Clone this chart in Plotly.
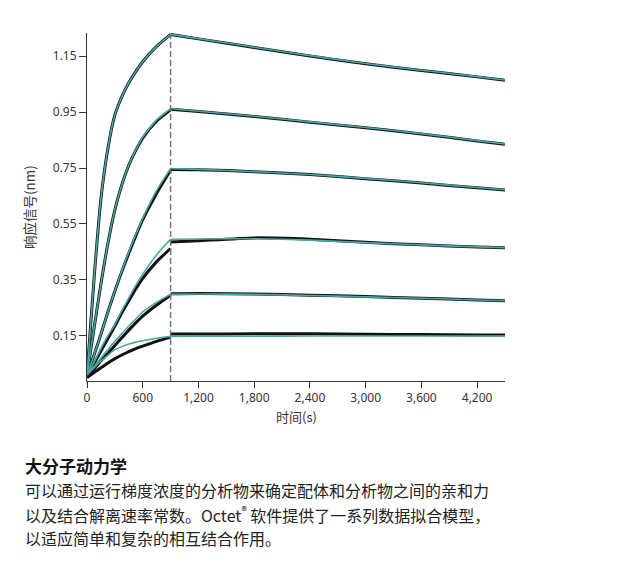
import plotly.graph_objects as go

# ---- data ----
t_assoc = [0, 75, 150, 225, 300, 375, 450, 525, 600, 750, 900]
t_dissoc = [900, 1200, 1800, 2400, 3000, 3600, 4200, 4500]

# fitted curves (association phase)
fit_assoc_1 = [0.01, 0.35, 0.64, 0.82, 0.94, 1.005, 1.055, 1.095, 1.13, 1.185, 1.228]
fit_assoc_2 = [0.01, 0.175, 0.335, 0.48, 0.60, 0.69, 0.76, 0.815, 0.86, 0.922, 0.962]
fit_assoc_3 = [0.01, 0.08, 0.155, 0.235, 0.31, 0.382, 0.45, 0.512, 0.57, 0.67, 0.748]
fit_assoc_4 = [0.01, 0.055, 0.105, 0.15, 0.19, 0.24, 0.285, 0.33, 0.37, 0.44, 0.495]
fit_assoc_5 = [0.01, 0.04, 0.07, 0.10, 0.13, 0.158, 0.185, 0.21, 0.235, 0.27, 0.298]
fit_assoc_6 = [0.01, 0.035, 0.06, 0.08, 0.10, 0.111, 0.12, 0.127, 0.132, 0.141, 0.147]

# measured data (association phase)
raw_assoc_1 = [0.01, 0.35, 0.64, 0.82, 0.94, 1.005, 1.055, 1.095, 1.13, 1.185, 1.228]
raw_assoc_2 = [0.01, 0.175, 0.335, 0.48, 0.60, 0.69, 0.76, 0.813, 0.857, 0.918, 0.958]
raw_assoc_3 = [0.01, 0.08, 0.155, 0.235, 0.31, 0.38, 0.445, 0.507, 0.565, 0.66, 0.742]
raw_assoc_4 = [0.005, 0.05, 0.095, 0.14, 0.185, 0.232, 0.275, 0.317, 0.355, 0.415, 0.462]
raw_assoc_5 = [0.005, 0.03, 0.06, 0.087, 0.115, 0.143, 0.17, 0.196, 0.22, 0.26, 0.295]
raw_assoc_6 = [0.0, 0.018, 0.035, 0.052, 0.068, 0.081, 0.093, 0.104, 0.113, 0.13, 0.145]

# fitted curves (dissociation phase)
fit_dissoc_1 = [1.228, 1.213, 1.182, 1.152, 1.124, 1.10, 1.077, 1.065]
fit_dissoc_2 = [0.962, 0.953, 0.935, 0.915, 0.895, 0.873, 0.848, 0.836]
fit_dissoc_3 = [0.748, 0.745, 0.737, 0.727, 0.713, 0.697, 0.68, 0.672]
fit_dissoc_4 = [0.495, 0.496, 0.497, 0.492, 0.483, 0.475, 0.468, 0.465]
fit_dissoc_5 = [0.298, 0.299, 0.298, 0.294, 0.289, 0.284, 0.278, 0.275]
fit_dissoc_6 = [0.147, 0.148, 0.148, 0.149, 0.149, 0.149, 0.149, 0.149]

# measured data (dissociation phase)
raw_dissoc_1 = [1.228, 1.212, 1.181, 1.151, 1.123, 1.099, 1.076, 1.064]
raw_dissoc_2 = [0.960, 0.952, 0.934, 0.914, 0.894, 0.872, 0.847, 0.835]
raw_dissoc_3 = [0.745, 0.744, 0.737, 0.727, 0.712, 0.696, 0.679, 0.671]
raw_dissoc_4 = [0.485, 0.49, 0.50, 0.495, 0.484, 0.475, 0.467, 0.465]
raw_dissoc_5 = [0.30, 0.301, 0.299, 0.295, 0.29, 0.284, 0.278, 0.275]
raw_dissoc_6 = [0.156, 0.156, 0.157, 0.157, 0.155, 0.154, 0.153, 0.153]

x_tickvals = [0, 600, 1200, 1800, 2400, 3000, 3600, 4200]
x_ticktext = ["0", "600", "1,200", "1,800", "2,400", "3,000", "3,600", "4,200"]
y_tickvals = [0.15, 0.35, 0.55, 0.75, 0.95, 1.15]
y_ticktext = ["0.15", "0.35", "0.55", "0.75", "0.95", "1.15"]
switch_time = 900

raw_assoc = [raw_assoc_1, raw_assoc_2, raw_assoc_3, raw_assoc_4, raw_assoc_5, raw_assoc_6]
raw_dissoc = [raw_dissoc_1, raw_dissoc_2, raw_dissoc_3, raw_dissoc_4, raw_dissoc_5, raw_dissoc_6]
fit_assoc = [fit_assoc_1, fit_assoc_2, fit_assoc_3, fit_assoc_4, fit_assoc_5, fit_assoc_6]
fit_dissoc = [fit_dissoc_1, fit_dissoc_2, fit_dissoc_3, fit_dissoc_4, fit_dissoc_5, fit_dissoc_6]

RAW_COLOR = "#111111"
FIT_COLOR = "#4aa5a5"

fig = go.Figure()
for ra, rd in zip(raw_assoc, raw_dissoc):
    for xs, ys in ((t_assoc, ra), (t_dissoc, rd)):
        fig.add_trace(go.Scatter(x=xs, y=ys, mode="lines",
                                 line=dict(color=RAW_COLOR, width=3, shape="spline", smoothing=0.6),
                                 showlegend=False, hoverinfo="skip"))
for fa, fd in zip(fit_assoc, fit_dissoc):
    for xs, ys in ((t_assoc, fa), (t_dissoc, fd)):
        fig.add_trace(go.Scatter(x=xs, y=ys, mode="lines",
                                 line=dict(color=FIT_COLOR, width=1.6, shape="spline", smoothing=0.6),
                                 showlegend=False, hoverinfo="skip"))

Y_MIN, Y_MAX = -0.012, 1.233

fig.add_shape(type="line", x0=switch_time, x1=switch_time, y0=Y_MIN, y1=1.228,
              xref="x", yref="y", line=dict(color="#777777", width=1.5, dash="6px,3px"))

tick_font = dict(family="Noto Sans, Open Sans, sans-serif", size=12, color="#333333")
fig.update_xaxes(range=[0, 4500], tickvals=x_tickvals, ticktext=x_ticktext,
                 showline=True, linecolor="#333333", linewidth=1,
                 ticks="outside", ticklen=6, tickcolor="#333333",
                 showgrid=False, zeroline=False, tickfont=tick_font)
fig.update_yaxes(range=[Y_MIN, Y_MAX], tickvals=y_tickvals, ticktext=y_ticktext,
                 showline=True, linecolor="#333333", linewidth=1,
                 ticks="outside", ticklen=7, tickcolor="#333333",
                 showgrid=False, zeroline=False, tickfont=tick_font)

cjk = "Noto Sans CJK SC, sans-serif"
ann = [
    dict(text="响应信号(nm)", x=(29 - 87) / 418, y=0.5, textangle=-90,
         font=dict(family=cjk, size=13.5, color="#333333")),
    dict(text="时间(s)", x=0.5, y=(381 - 416) / 348,
         font=dict(family=cjk, size=13, color="#333333")),
]
left = (23 - 87) / 418
lines = [
    ("<b>大分子动力学</b>", 465, "#111111", 17),
    ("可以通过运行梯度浓度的分析物来确定配体和分析物之间的亲和力", 489.5, "#222222", 16),
    ("以及结合解离速率常数。Octet<sup>®</sup> 软件提供了一系列数据拟合模型，", 514.5, "#222222", 16),
    ("以适应简单和复杂的相互结合作用。", 538, "#222222", 16),
]
for txt, py, col, fs in lines:
    ann.append(dict(text=txt, x=left, y=(381 - py) / 348, xanchor="left",
                    font=dict(family=cjk, size=fs, color=col)))
for a in ann:
    a.setdefault("xanchor", "center")
    a.update(xref="paper", yref="paper", yanchor="middle", showarrow=False)
fig.update_layout(annotations=ann)

# page body adds an 8px offset; margins compensate so the plot sits where the reference has it
fig.update_layout(width=619, height=571,
                  margin=dict(l=79, r=122, t=25, b=198),
                  paper_bgcolor="white", plot_bgcolor="white")

fig.write_html("out.html")
